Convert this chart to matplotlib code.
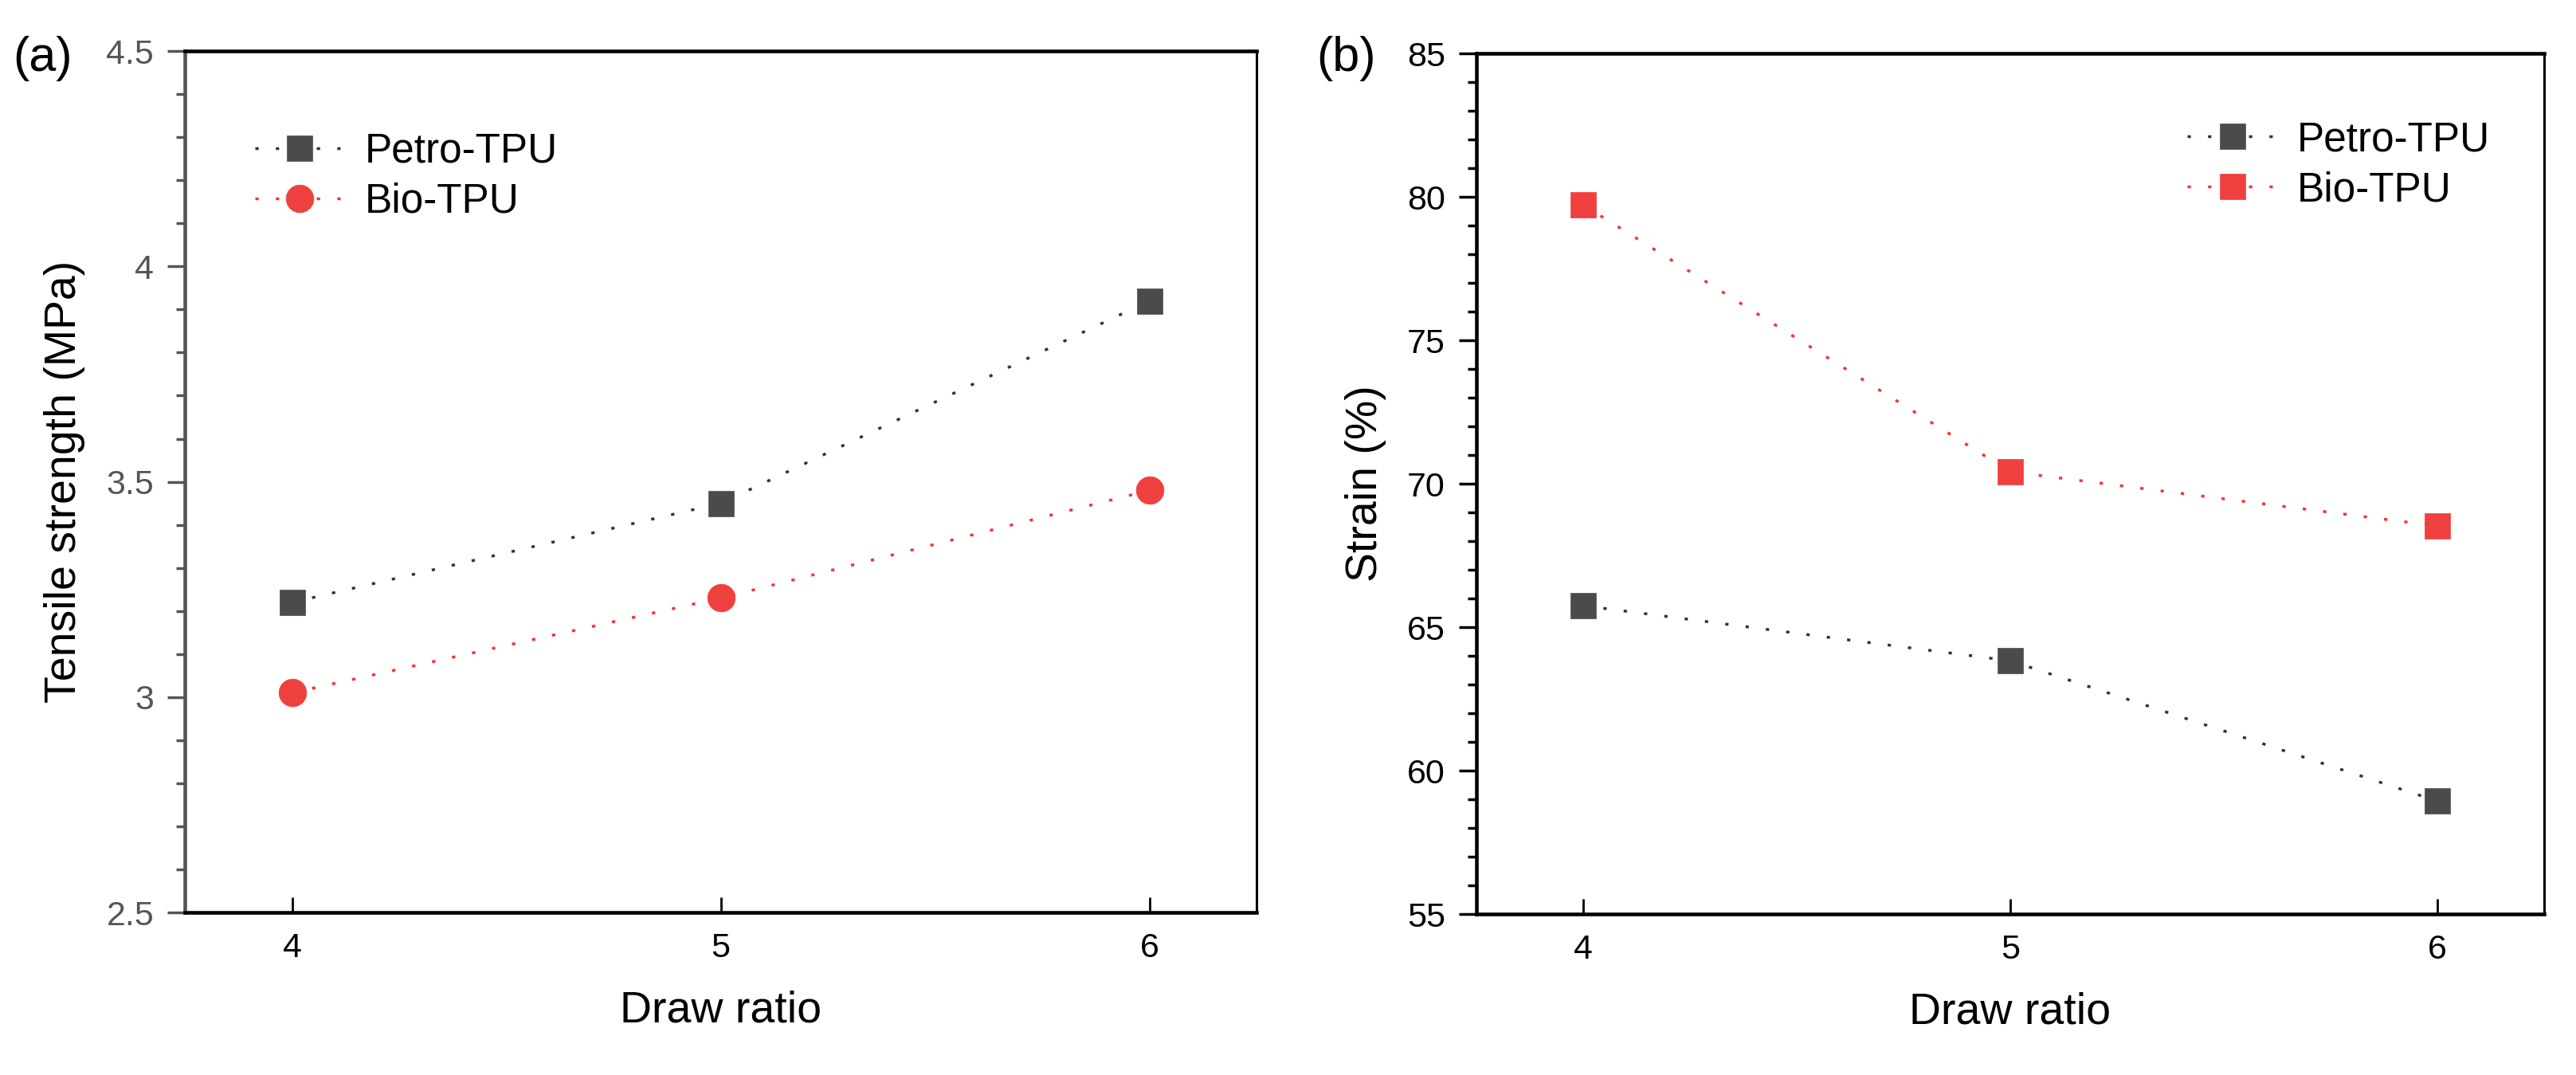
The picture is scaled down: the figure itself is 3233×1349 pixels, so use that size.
import matplotlib.pyplot as plt
from matplotlib.ticker import MultipleLocator

plt.rcParams['font.family'] = ['Liberation Sans', 'DejaVu Sans']

# data
draw_ratio = [4, 5, 6]
petro_strength = [3.22, 3.45, 3.92]
bio_strength = [3.01, 3.23, 3.48]
petro_strain = [65.75, 63.83, 58.94]
bio_strain = [79.72, 70.42, 68.53]
series_labels = ['Petro-TPU', 'Bio-TPU']

petro_mark = '#4b4b4b'
bio_mark = '#ef4040'
petro_line = '#333333'
bio_line = '#ff2e2e'
dots = (0, (1.2, 6.2))

fig = plt.figure(figsize=(32.33, 13.49), dpi=100)
ax1 = fig.add_axes([0.0718, 0.1512, 0.416, 0.8013])
ax2 = fig.add_axes([0.5731, 0.1497, 0.4145, 0.8006])

# (a) tensile strength
ax1.plot(draw_ratio, petro_strength, color=petro_line, lw=2.5, linestyle=dots,
         marker='s', ms=23, mfc=petro_mark, mec=petro_mark, mew=0.5, label=series_labels[0])
ax1.plot(draw_ratio, bio_strength, color=bio_line, lw=2.5, linestyle=dots,
         marker='o', ms=25, mfc=bio_mark, mec=bio_mark, mew=0.5, label=series_labels[1])

# (b) strain
ax2.plot(draw_ratio, petro_strain, color=petro_line, lw=2.5, linestyle=dots,
         marker='s', ms=23, mfc=petro_mark, mec=petro_mark, mew=0.5, label=series_labels[0])
ax2.plot(draw_ratio, bio_strain, color=bio_line, lw=2.5, linestyle=dots,
         marker='s', ms=23, mfc=bio_mark, mec=bio_mark, mew=0.5, label=series_labels[1])

ax1.set_xlim(3.75, 6.25)
ax1.set_ylim(2.5, 4.5)
ax1.yaxis.set_major_locator(MultipleLocator(0.5))
ax1.yaxis.set_minor_locator(MultipleLocator(0.25))
ax1.set_yticks([2.5, 3, 3.5, 4, 4.5])
ax1.set_yticklabels(['2.5', '3', '3.5', '4', '4.5'])

ax2.set_xlim(3.75, 6.25)
ax2.set_ylim(55, 85)
ax2.yaxis.set_major_locator(MultipleLocator(5))
ax2.yaxis.set_minor_locator(MultipleLocator(2.5))

for ax in (ax1, ax2):
    ax.set_xticks(draw_ratio)
    ax.tick_params(axis='x', which='both', direction='in', length=14, width=2,
                   labelsize=31, pad=18, top=False, colors='black')
    ax.tick_params(axis='y', which='major', direction='out', length=16, width=2.5,
                   labelsize=31, pad=12, right=False)
    ax.tick_params(axis='y', which='minor', direction='out', length=8, width=2.5, right=False)
    ax.minorticks_on()
    ax.xaxis.set_minor_locator(plt.NullLocator())
    for side in ['top', 'bottom', 'left']:
        ax.spines[side].set_linewidth(3.3)
        ax.spines[side].set_color('black')
    ax.spines['right'].set_linewidth(2.2)
    ax.set_xlabel('Draw ratio', fontsize=40)
    ax.xaxis.set_label_coords(0.5, -0.09)

# left panel axis in grey
ax1.spines['left'].set_color('#555555')
ax1.tick_params(axis='y', which='both', colors='#555555')

ax1.set_ylabel('Tensile strength (MPa)', fontsize=40)
ax1.yaxis.set_label_coords(-0.093, 0.5)
ax2.set_ylabel('Strain (%)', fontsize=40)
ax2.yaxis.set_label_coords(-0.084, 0.5)

ax1.legend(loc='upper left', bbox_to_anchor=(0.065, 0.906), frameon=False, fontsize=37,
           handlelength=2.2, handletextpad=0.48, labelspacing=0.27, borderpad=0,
           borderaxespad=0)
ax2.legend(loc='upper left', bbox_to_anchor=(0.666, 0.922), frameon=False, fontsize=37,
           handlelength=2.2, handletextpad=0.48, labelspacing=0.27, borderpad=0,
           borderaxespad=0)

fig.text(53 / 3233, 1 - 74 / 1349, '(a)', ha='center', va='center', fontsize=44)
fig.text(1689 / 3233, 1 - 74 / 1349, '(b)', ha='center', va='center', fontsize=44)

fig.savefig('out.png', dpi=100)
